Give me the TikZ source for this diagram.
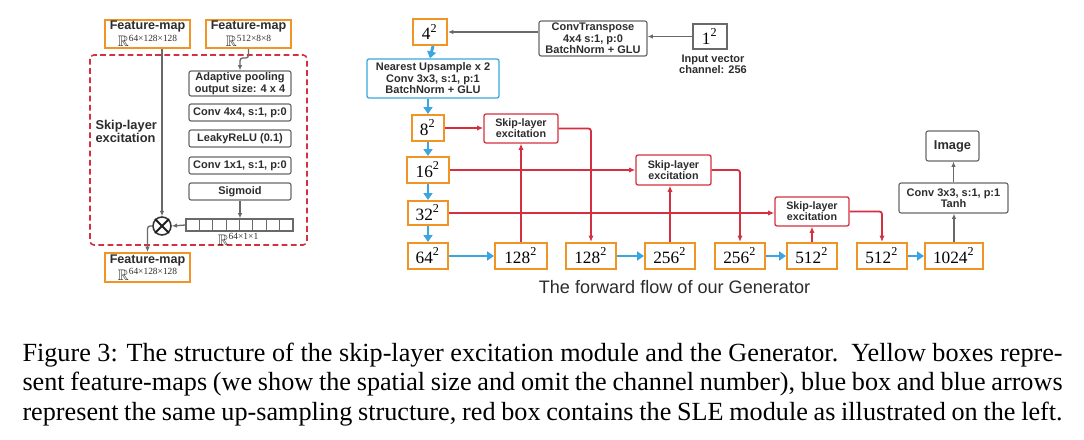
\documentclass[tikz,border=0pt]{standalone}
\usepackage{amssymb}
\usepackage{fontspec}
\setmainfont{Liberation Serif}
\setsansfont{Liberation Sans}
\usetikzlibrary{arrows.meta}
\newdimen\pxu \pxu=0.3817pt
\definecolor{forange}{RGB}{241,148,38}
\definecolor{fred}{RGB}{212,48,66}
\definecolor{fblue}{RGB}{58,166,224}
\definecolor{fgray}{RGB}{105,105,105}
\definecolor{ftext}{RGB}{45,45,45}
\newcommand\lblfont{\sffamily\bfseries\fontsize{4.2}{4.4}\selectfont}
\newcommand\sqn[1]{#1\textsuperscript{2}}
\newcommand\rdim[1]{{\fontsize{5.8}{6}\selectfont\(\mathbb{R}\)}\raisebox{2.2pt}{\fontsize{3.6}{3.8}\selectfont #1}}
\newcommand\fmtext[1]{{\sffamily\bfseries Feature-map}\\\rdim{#1}}
\tikzset{
  sz/.style 2 args={minimum width=#1*\pxu, minimum height=#2*\pxu},
  fm/.style={draw=forange, line width=0.8pt, fill=white, inner sep=0pt, align=center, text=ftext,
     font=\fontsize{4.8}{5.1}\selectfont},
  nbox/.style={draw=forange, line width=0.8pt, fill=white, inner sep=0pt, text=black,
     font=\rmfamily\fontsize{6.6}{7}\selectfont},
  gbox/.style={draw=fgray, line width=0.45pt, rounded corners=0.8pt, fill=white, inner sep=0pt,
     align=center, text=ftext, font=\lblfont},
  rbox/.style={draw=fred, line width=0.5pt, rounded corners=0.8pt, fill=white, inner sep=0pt,
     align=center, text=ftext, font=\sffamily\bfseries\fontsize{4.1}{4.3}\selectfont},
  bbox/.style={draw=fblue, line width=0.5pt, rounded corners=0.8pt, fill=white, inner sep=0pt,
     align=center, text=ftext, font=\lblfont},
  rarr/.style={draw=fred, line width=0.7pt, -{Latex[length=2.4pt,width=2pt]}, rounded corners=1pt},
  barr/.style={draw=fblue, line width=1.1pt, -{Triangle[length=2.6pt,width=3.4pt]}},
  garr/.style={draw=fgray, line width=0.5pt, -{Latex[length=2pt,width=1.7pt]}, rounded corners=1pt},
}
\begin{document}
\begin{tikzpicture}[x=0.3817pt,y=-0.3817pt]
\fill[white] (0,0) rectangle (1084,440);
\useasboundingbox (0,0) rectangle (1084,440);

% ---------------- left: SLE module ----------------
\draw[fred, line width=0.6pt, dash pattern=on 2.2pt off 1.3pt, rounded corners=1.5pt] (90,55) rectangle (307,245);
\node[fm, sz={85}{28}] (fmA) at (147.5,34) {\fmtext{64×128×128}};
\node[fm, sz={85}{28}] (fmB) at (248.5,34) {\fmtext{512×8×8}};
\node[fm, sz={85}{29}] (fmC) at (147.5,267.5) {\fmtext{64×128×128}};
\node[anchor=west, align=left, inner sep=0pt, text=ftext, font=\sffamily\bfseries\fontsize{4.9}{5}\selectfont] (slelbl) at (95,131) {Skip-layer\\excitation};

\node[gbox, sz={102}{25}] (ap) at (240,83.5) {Adaptive pooling\\output size: 4 x 4};
\node[gbox, sz={102}{17}] (c44) at (240,112.5) {Conv 4x4, s:1, p:0};
\node[gbox, sz={102}{17}] (lr) at (240,138.5) {LeakyReLU (0.1)};
\node[gbox, sz={102}{17}] (c11) at (240,165.5) {Conv 1x1, s:1, p:0};
\node[gbox, sz={102}{17}] (sig) at (240,191.5) {Sigmoid};

\node[draw=fgray, line width=0.45pt, fill=white, inner sep=0pt, sz={107}{12}] (vec) at (239.5,225) {};
\foreach \i in {1,...,7} \draw[fgray, line width=0.45pt] (186+\i*13.375,219) -- (186+\i*13.375,231);
\node[inner sep=0pt, text=ftext] (vlab) at (238,239) {\rdim{64×1×1}};

\node[circle, draw=fgray!50!black, line width=0.6pt, fill=white, inner sep=0pt, minimum size=18*\pxu] (mul) at (162,226) {};
\draw[fgray!30!black, line width=0.7pt] (mul.north west) -- (mul.south east) (mul.north east) -- (mul.south west);

\coordinate (jog) at (245,58);
\draw[garr] (mul.north |- fmA.south) -- (mul.north);
\draw[garr] (fmB.south) -- (fmB.south |- jog) -- (ap.north |- jog) -- (ap.north);
\draw[garr] (sig.south) -- (sig.south |- vec.north);
\draw[garr] (vec.west) -- (mul.east);
\draw[garr] (mul.west) -| (fmC.north);

% ---------------- right: generator ----------------
\node[nbox, sz={34}{26}] (n4) at (430,32) {\sqn{4}};
\node[gbox, sz={108}{35}] (ct) at (593,38.5) {ConvTranspose\\4x4 s:1, p:0\\BatchNorm + GLU};
\node[draw=fgray, line width=0.45pt, fill=white, inner sep=0pt, sz={34}{25}, font=\rmfamily\fontsize{6.6}{7}\selectfont] (n1) at (710,36.5) {\sqn{1}};
\node[inner sep=0pt, align=center, text=ftext, font=\lblfont] (inp) at (713,64.5) {Input vector\\channel: 256};
\draw[garr] (n1.west) -- (n1.west -| ct.east);
\draw[garr] (ct.west |- n4.east) -- (n4.east);

\node[bbox, sz={132}{39}] (up) at (433,78.5) {Nearest Upsample x 2\\Conv 3x3, s:1, p:1\\BatchNorm + GLU};
\node[nbox, sz={32}{26}] (n8) at (428,128) {\sqn{8}};
\node[nbox, sz={42}{26}] (n16) at (428,170) {\sqn{16}};
\node[nbox, sz={40}{24}] (n32) at (428,213) {\sqn{32}};
\node[nbox, sz={40}{26}] (n64) at (428,256) {\sqn{64}};

\node[nbox, sz={52}{26}] (a128) at (521,256) {\sqn{128}};
\node[nbox, sz={50}{26}] (b128) at (591,256) {\sqn{128}};
\node[nbox, sz={50}{26}] (a256) at (670,256) {\sqn{256}};
\node[nbox, sz={50}{26}] (b256) at (740,256) {\sqn{256}};
\node[nbox, sz={50}{26}] (a512) at (812,256) {\sqn{512}};
\node[nbox, sz={50}{26}] (b512) at (882,256) {\sqn{512}};
\node[nbox, sz={58}{26}] (n1024) at (954,256) {\sqn{1024}};

\node[rbox, sz={74}{29}] (sle1) at (521,128.5) {Skip-layer\\excitation};
\node[rbox, sz={75}{30}] (sle2) at (673.5,170) {Skip-layer\\excitation};
\node[rbox, sz={74}{29}] (sle3) at (812,211.5) {Skip-layer\\excitation};

\node[gbox, sz={109}{30}] (cv) at (953.5,198) {Conv 3x3, s:1, p:1\\Tanh};
\node[gbox, sz={53}{30}, font=\sffamily\bfseries\fontsize{4.9}{5}\selectfont] (img) at (952.5,146) {Image};

\node[inner sep=0pt, text=ftext, font=\sffamily\fontsize{6.9}{7}\selectfont] (fwd) at (674.5,287) {The forward flow of our Generator};

% blue
\draw[barr] (n4.south -| up.north) -- (up.north -| n4.south);
\draw[barr] (up.south -| n8.north) -- (n8.north);
\draw[barr] (n8.south) -- (n8.south |- n16.north);
\draw[barr] (n16.south -| n32.north) -- (n32.north);
\draw[barr] (n32.south) -- (n64.north);
\draw[barr] (n64.east) -- (a128.west);
\draw[barr] (b128.east) -- (a256.west);
\draw[barr] (b256.east) -- (a512.west);
\draw[barr] (b512.east) -- (n1024.west);

% red
\draw[rarr] (n8.east) -- (n8.east -| sle1.west);
\draw[rarr] (n16.east) -- (n16.east -| sle2.west);
\draw[rarr] (n32.east) -- (n32.east -| sle3.west);
\draw[rarr] (a128.north) -- (a128.north |- sle1.south);
\draw[rarr] (sle1.east) -| (b128.north);
\draw[rarr] (a256.north) -- (a256.north |- sle2.south);
\draw[rarr] (sle2.east) -| (b256.north);
\draw[rarr] (a512.north) -- (a512.north |- sle3.south);
\draw[rarr] (sle3.east) -| (b512.north);

% gray
\draw[garr] (n1024.north) -- (n1024.north |- cv.south);
\draw[garr] (cv.north) -- (cv.north |- img.south);

% ---------------- caption ----------------
\node[anchor=base west, inner sep=0pt, font=\rmfamily\fontsize{10}{11}\selectfont] (cap1) at (22,362)
  {\makebox[397pt][s]{Figure 3: The structure of the skip-layer excitation module and the Generator.\ \ Yellow boxes repre-}};
\node[anchor=base west, inner sep=0pt, font=\rmfamily\fontsize{10}{11}\selectfont] (cap2) at (22,391)
  {\makebox[397pt][s]{sent feature-maps (we show the spatial size and omit the channel number), blue box and blue arrows}};
\node[anchor=base west, inner sep=0pt, font=\rmfamily\fontsize{10}{11}\selectfont] (cap3) at (22,420)
  {\makebox[397pt][s]{represent the same up-sampling structure, red box contains the SLE module as illustrated on the left.}};
\end{tikzpicture}
\end{document}
